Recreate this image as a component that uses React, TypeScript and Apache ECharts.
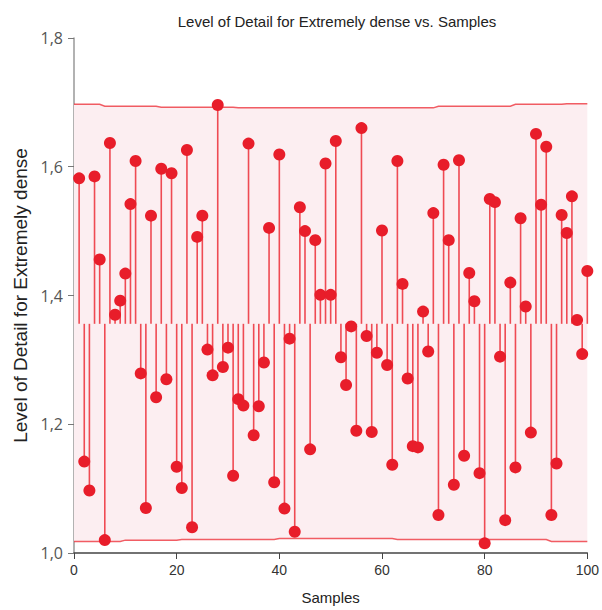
import { useEffect, useRef } from "react";
import * as echarts from "echarts";

// Level of detail measured for each sample (samples numbered 1..100)
const levelOfDetail = [
  1.582, 1.142, 1.097, 1.585, 1.456, 1.02, 1.637, 1.37, 1.392, 1.434,
  1.542, 1.609, 1.279, 1.07, 1.524, 1.242, 1.597, 1.27, 1.59, 1.134,
  1.101, 1.626, 1.04, 1.491, 1.524, 1.316, 1.276, 1.696, 1.289, 1.319,
  1.12, 1.239, 1.229, 1.636, 1.183, 1.228, 1.296, 1.505, 1.11, 1.619,
  1.069, 1.333, 1.033, 1.537, 1.5, 1.161, 1.486, 1.401, 1.605, 1.401,
  1.64, 1.304, 1.261, 1.352, 1.19, 1.66, 1.337, 1.188, 1.311, 1.501,
  1.292, 1.137, 1.609, 1.418, 1.271, 1.166, 1.164, 1.375, 1.313, 1.528,
  1.059, 1.603, 1.486, 1.106, 1.61, 1.151, 1.435, 1.391, 1.124, 1.015,
  1.55, 1.545, 1.305, 1.051, 1.42, 1.133, 1.52, 1.383, 1.187, 1.651,
  1.541, 1.631, 1.059, 1.139, 1.525, 1.497, 1.554, 1.362, 1.309, 1.438,
];

// Stems start from the process centre line
const BASELINE = 1.356;

// Control band (upper / lower limits) along the sample axis
const bandX = [0, 5, 6, 9, 10, 16, 17, 20, 21, 31, 32, 39, 40, 62, 63, 70, 71, 85, 86, 92, 93, 95, 96, 100];
const bandUpper = [
  1.697, 1.697, 1.694, 1.694, 1.694, 1.694, 1.6925, 1.6925, 1.6925, 1.6925, 1.6915, 1.6915,
  1.6915, 1.6915, 1.6915, 1.6915, 1.694, 1.694, 1.697, 1.697, 1.697, 1.697, 1.698, 1.698,
];
const bandLower = [
  1.018, 1.018, 1.018, 1.018, 1.02, 1.02, 1.02, 1.02, 1.021, 1.021, 1.021, 1.021,
  1.0225, 1.0225, 1.021, 1.021, 1.021, 1.021, 1.021, 1.021, 1.018, 1.018, 1.018, 1.018,
];

const yMin = 1.0;
const yMax = 1.8;
const yStep = 0.2;
const xMin = 0;
const xMax = 100;
const xStep = 20;

const WIDTH = 602;
const HEIGHT = 610;

const RED = "#e81d2a";
const STEM = "rgba(236, 45, 55, 0.85)";
const BAND_LINE = "rgba(236, 40, 50, 0.75)";
const BAND_FILL = "#fceef1";
const FONT = "Liberation Sans, Arial, sans-serif";

export default function App() {
  const ref = useRef<HTMLDivElement>(null);

  useEffect(() => {
    if (!ref.current) return;
    const chart = echarts.init(ref.current, undefined, {
      renderer: "svg",
      width: WIDTH,
      height: HEIGHT,
    });

    const points = levelOfDetail.map((v, i) => [i + 1, v]);

    chart.setOption({
      animation: false,
      backgroundColor: "#ffffff",
      title: {
        text: "Level of Detail for Extremely dense vs. Samples",
        left: 332,
        textAlign: "center",
        top: 9,
        textStyle: { fontFamily: FONT, fontSize: 15, fontWeight: "normal", color: "#222" },
      },
      grid: { left: 74, right: -1, top: 38, bottom: 50, containLabel: false },
      xAxis: {
        type: "value",
        min: xMin,
        max: xMax,
        interval: xStep,
        name: "Samples",
        nameLocation: "middle",
        nameGap: 37,
        nameTextStyle: { fontFamily: FONT, fontSize: 15, color: "#222" },
        axisLine: { lineStyle: { color: "#444", width: 1.5 } },
        axisTick: { show: true, length: 6, lineStyle: { color: "#444" } },
        axisLabel: { fontFamily: FONT, fontSize: 14, color: "#333", margin: 10 },
        splitLine: { show: false },
      },
      yAxis: {
        type: "value",
        min: yMin,
        max: yMax,
        interval: yStep,
        name: "Level of Detail for Extremely dense",
        nameLocation: "middle",
        nameGap: 44,
        nameRotate: 90,
        nameTextStyle: { fontFamily: FONT, fontSize: 19, color: "#222" },
        axisLine: { show: true, lineStyle: { color: "#999", width: 1.5 } },
        axisTick: { show: true, length: 6, lineStyle: { color: "#777" } },
        axisLabel: {
          fontFamily: "Open Sans, Liberation Sans, sans-serif",
          fontSize: 16,
          color: "#555",
          margin: 11,
          formatter: (v: number) => v.toFixed(1).replace(".", ","),
        },
        splitLine: { show: false },
      },
      series: [
        {
          type: "custom",
          name: "band",
          silent: true,
          clip: false,
          z: 1,
          data: [[xMin, yMin]],
          renderItem: (_params: any, api: any) => {
            const upper = bandX.map((x, i) => api.coord([x, bandUpper[i]]));
            const lower = bandX.map((x, i) => api.coord([x, bandLower[i]]));
            return {
              type: "group",
              children: [
                {
                  type: "polygon",
                  shape: { points: upper.concat(lower.slice().reverse()) },
                  style: { fill: BAND_FILL, stroke: "none" },
                },
                {
                  type: "polyline",
                  shape: { points: upper },
                  style: { stroke: BAND_LINE, lineWidth: 1.5, fill: "none" },
                },
                {
                  type: "polyline",
                  shape: { points: lower },
                  style: { stroke: BAND_LINE, lineWidth: 1.5, fill: "none" },
                },
              ],
            };
          },
        },
        {
          type: "custom",
          name: "stems",
          silent: true,
          z: 2,
          data: points,
          renderItem: (_params: any, api: any) => {
            const x = api.value(0);
            const y = api.value(1);
            const p0 = api.coord([x, BASELINE]);
            const p1 = api.coord([x, y]);
            return {
              type: "line",
              shape: { x1: p0[0], y1: p0[1], x2: p1[0], y2: p1[1] },
              style: { stroke: STEM, lineWidth: 1.6 },
            };
          },
        },
        {
          type: "scatter",
          name: "Level of Detail",
          z: 3,
          symbol: "circle",
          symbolSize: 12,
          itemStyle: { color: RED, opacity: 1 },
          data: points,
        },
      ],
    });

    return () => chart.dispose();
  }, []);

  return (
    <div
      ref={ref}
      style={{ position: "fixed", left: 0, top: 0, width: WIDTH, height: HEIGHT, background: "#fff" }}
    />
  );
}
